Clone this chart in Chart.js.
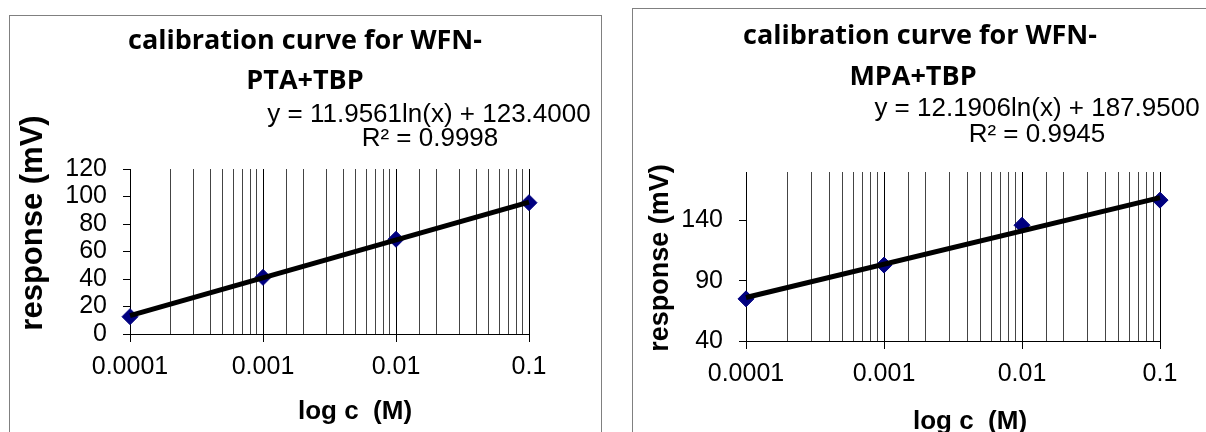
<!DOCTYPE html>
<html>
<head>
<meta charset="utf-8">
<script src="https://cdn.jsdelivr.net/npm/chart.js@4.4.1/dist/chart.umd.min.js"></script>
<style>
  html, body { margin: 0; padding: 0; background: #fff; }
  body { width: 1206px; height: 432px; position: relative; overflow: hidden; }
  .box { position: absolute; border: 1px solid #808080; box-sizing: border-box; background: #fff; }
  canvas { position: absolute; left: 0; top: 0; }
</style>
</head>
<body>
<div class="box" style="left:9px; top:15px; width:593px; height:440px;"></div>
<div class="box" style="left:632px; top:8px; width:600px; height:440px;"></div>
<canvas id="c1" width="1206" height="432"></canvas>
<canvas id="c2" width="1206" height="432"></canvas>
<script>
// ---- data ----
const concentrations = [0.0001, 0.001, 0.01, 0.1];
const xTickLabels = ["0.0001", "0.001", "0.01", "0.1"];
const trendX = [0.0001, 0.1];

const ptaResponse = [12.6, 41.2, 68.9, 95.5];
const ptaTrend = [13.3, 95.9];
const ptaYTicks = [0, 20, 40, 60, 80, 100, 120];

const mpaResponse = [74.9, 102.9, 135.9, 156.7];
const mpaTrend = [76.0, 158.8];
const mpaYTicks = [40, 90, 140];

const ARIAL = '"Liberation Sans", Arial, sans-serif';
const TITLEF = '"Open Sans", "Noto Sans", sans-serif';

function isMajor(v) {
  const l = Math.log10(v);
  return Math.abs(l - Math.round(l)) < 1e-6;
}

const textPlugin = {
  id: 'texts',
  afterDraw(chart, args, opts) {
    const ctx = chart.ctx;
    (opts.items || []).forEach(it => {
      ctx.save();
      ctx.font = it.font;
      ctx.fillStyle = '#000';
      ctx.textAlign = 'center';
      ctx.textBaseline = 'alphabetic';
      if (it.rotate) {
        ctx.translate(it.x, it.y);
        ctx.rotate(-Math.PI / 2);
        ctx.fillText(it.text, 0, 0);
      } else {
        ctx.fillText(it.text, it.x, it.y);
      }
      ctx.restore();
    });
  }
};

function makeChart(id, resp, trend, yTicks, yMin, yMax, pad, texts) {
  const pts = concentrations.map((c, i) => ({ x: c, y: resp[i] }));
  const tl = trendX.map((c, i) => ({ x: c, y: trend[i] }));
  return new Chart(document.getElementById(id), {
    type: 'scatter',
    data: {
      datasets: [
        { label: 'trend', data: tl, showLine: true, borderColor: '#000', borderWidth: 5,
          pointRadius: 0, order: 0, clip: false },
        { label: 'response', data: pts, pointStyle: 'rectRot', pointRadius: 8,
          backgroundColor: '#000080', borderColor: '#000080', borderWidth: 1, order: 1, clip: false }
      ]
    },
    options: {
      responsive: false,
      animation: false,
      devicePixelRatio: 1,
      layout: { padding: pad },
      plugins: { legend: { display: false }, tooltip: { enabled: false }, title: { display: false },
        texts: { items: texts } },
      scales: {
        x: {
          type: 'logarithmic', min: 0.0001, max: 0.1,
          afterFit: s => { s.height = 60; },
          border: { display: true, color: '#000', width: 1 },
          grid: {
            drawOnChartArea: true, drawTicks: true, tickLength: 8,
            color: c => (c.tick && isMajor(c.tick.value)) ? '#000' : '#444',
            tickColor: c => (c.tick && isMajor(c.tick.value)) ? '#000' : 'rgba(0,0,0,0)',
            lineWidth: 1
          },
          ticks: {
            autoSkip: false, maxRotation: 0, minRotation: 0, padding: 10,
            color: '#000', font: { family: ARIAL, size: 25 },
            callback: v => {
              const i = concentrations.findIndex(c => Math.abs(c - v) / c < 1e-6);
              return i >= 0 ? xTickLabels[i] : '';
            }
          }
        },
        y: {
          type: 'linear', min: yMin, max: yMax,
          afterFit: s => { s.width = 100; },
          afterBuildTicks: s => { s.ticks = yTicks.map(v => ({ value: v })); },
          border: { display: true, color: '#000', width: 1 },
          grid: { drawOnChartArea: false, drawTicks: true, tickLength: 7, tickColor: '#000' },
          ticks: { autoSkip: false, padding: 16, color: '#000', font: { family: ARIAL, size: 25 } }
        }
      }
    },
    plugins: [textPlugin]
  });
}

makeChart('c1', ptaResponse, ptaTrend, ptaYTicks, 0, 120,
  { left: 30, right: 677, top: 169, bottom: 38 },
  [
    { text: 'calibration curve for WFN-', x: 305, y: 49, font: 'bold 27px ' + TITLEF },
    { text: 'PTA+TBP', x: 305, y: 89, font: 'bold 27px ' + TITLEF },
    { text: 'y = 11.9561ln(x) + 123.4000', x: 429, y: 122, font: '26px ' + ARIAL },
    { text: 'R\u00B2 = 0.9998', x: 430, y: 146, font: '26px ' + ARIAL },
    { text: 'log c  (M)', x: 355, y: 419, font: 'bold 26px ' + ARIAL },
    { text: 'response (mV)', x: 42, y: 223, font: 'bold 31px ' + ARIAL, rotate: true }
  ]);

makeChart('c2', mpaResponse, mpaTrend, mpaYTicks, 40, 180,
  { left: 646, right: 46, top: 172, bottom: 31 },
  [
    { text: 'calibration curve for WFN-', x: 920, y: 44, font: 'bold 27px ' + TITLEF },
    { text: 'MPA+TBP', x: 913, y: 85, font: 'bold 27px ' + TITLEF },
    { text: 'y = 12.1906ln(x) + 187.9500', x: 1037, y: 116, font: '26px ' + ARIAL },
    { text: 'R\u00B2 = 0.9945', x: 1037, y: 142, font: '26px ' + ARIAL },
    { text: 'log c  (M)', x: 970, y: 429, font: 'bold 26px ' + ARIAL },
    { text: 'response (mV)', x: 668, y: 258, font: 'bold 27px ' + ARIAL, rotate: true }
  ]);
</script>
</body>
</html>
